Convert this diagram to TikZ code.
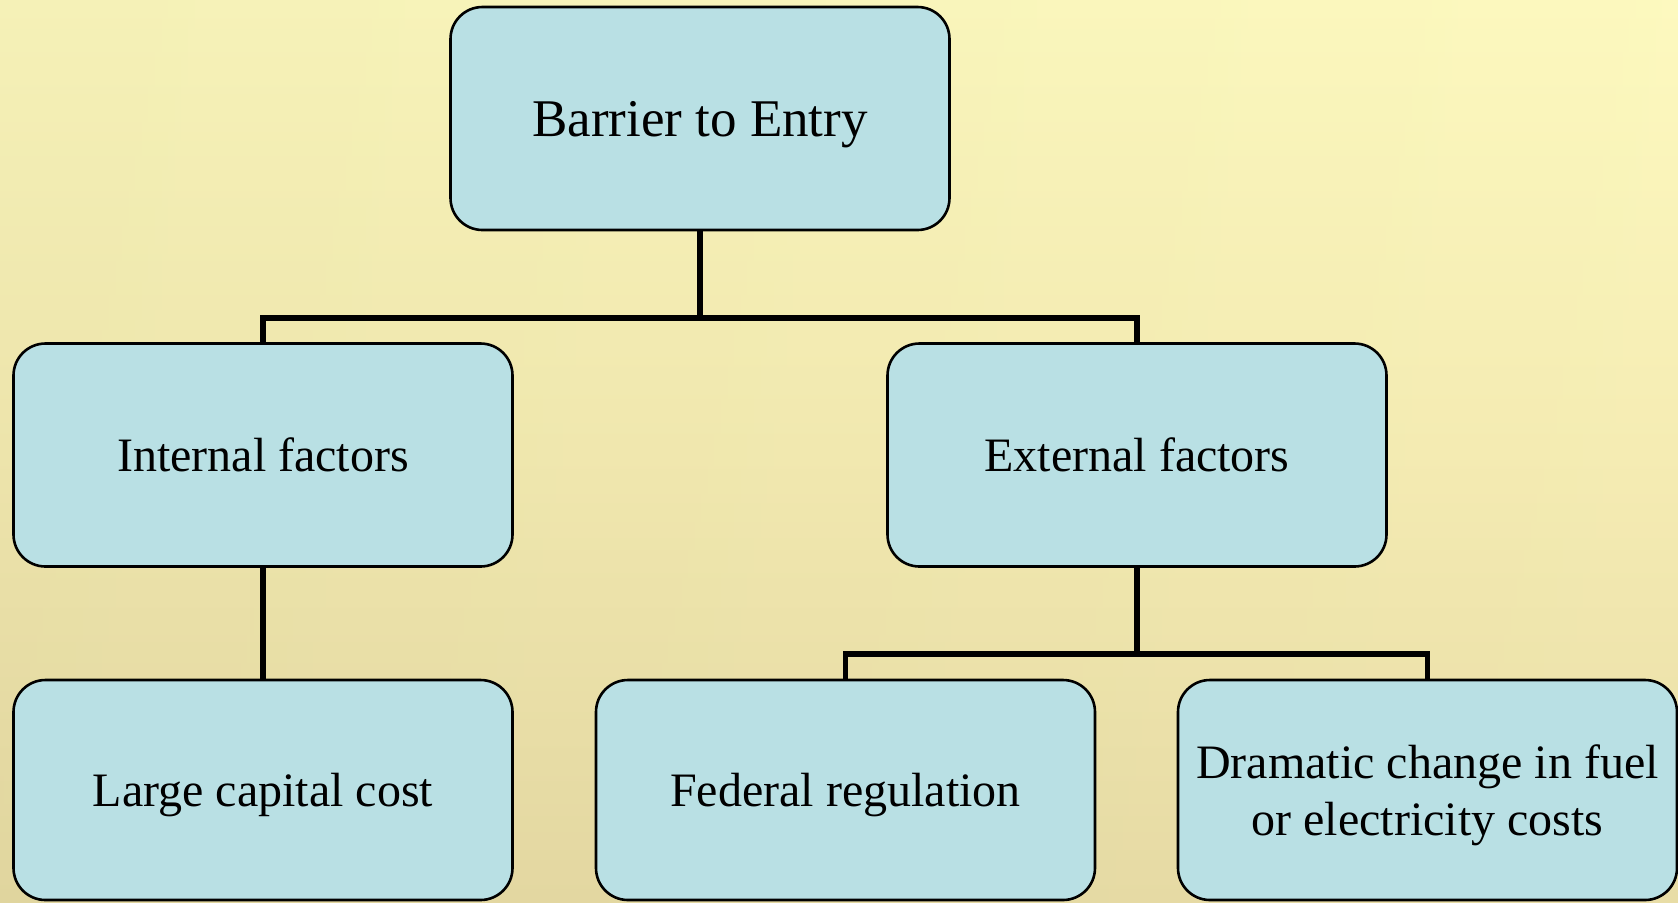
\documentclass[tikz,border=0pt]{standalone}
\usepackage{fontspec}
\setmainfont{Liberation Serif}
\definecolor{boxfill}{RGB}{185,224,228}
\definecolor{bgtop}{RGB}{253,249,189}
\definecolor{bgmid}{RGB}{245,236,177}
\definecolor{bgbot}{RGB}{232,220,164}
\begin{document}
\begin{tikzpicture}[x=0.5pt,y=-0.5pt,
  box/.style={draw=black,line width=1.3pt,fill=boxfill,rounded corners=16pt,
    minimum width=249.5pt,minimum height=111.5pt,inner sep=2pt,align=center,
    text depth=0pt,font=\fontsize{24}{28.4}\selectfont},
  topbox/.style={box,font=\fontsize{26.5}{30}\selectfont},
  lowbox/.style={box,minimum height=110pt},
  conn/.style={draw=black,line width=2.6pt}]
\useasboundingbox (0,0) rectangle (1678,902);
\shade[top color=bgtop,bottom color=bgbot,middle color=bgmid] (0,0) rectangle (1678,902);
\shade[left color=black,right color=white,opacity=0.03] (0,0) rectangle (1678,902);
\node[topbox] (top) at (700,118.5) {Barrier to Entry};
\node[box] (int) at (263,455) {Internal factors};
\node[box] (ext) at (1137,455) {External factors};
\node[lowbox] (large) at (263,790) {Large capital cost};
\node[lowbox] (fed) at (845.5,790) {Federal regulation};
\node[lowbox] (dra) at (1427.5,790) {Dramatic change in fuel\\or electricity costs};
\coordinate (b1) at (700,318);
\coordinate (b2) at (1137,654);
\draw[conn] (top.south) -- (b1);
\draw[conn] (int.north) |- (b1) -| (ext.north);
\draw[conn] (int.south) -- (large.north);
\draw[conn] (ext.south) -- (b2);
\draw[conn] (fed.north) |- (b2) -| (dra.north);
\end{tikzpicture}
\end{document}
